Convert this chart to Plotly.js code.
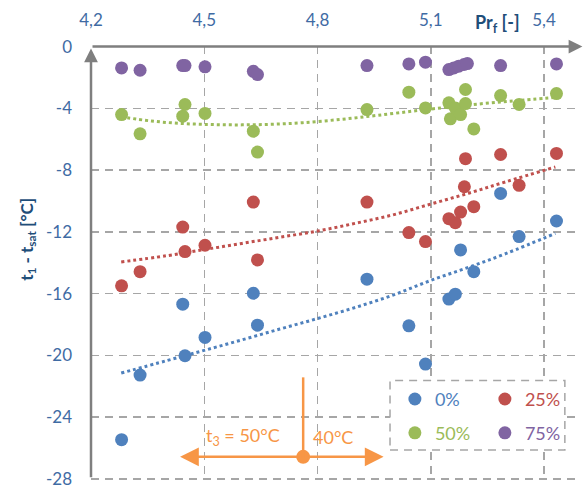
<!DOCTYPE html>
<html>
<head>
<meta charset="utf-8">
<script src="https://cdn.plot.ly/plotly-3.0.1.min.js"></script>
<style>html,body{margin:0;padding:0;background:#fff;}#chart{width:585px;height:488px;}</style>
</head>
<body>
<div id="chart"></div>
<script>
// ---- data ----
const seriesNames = ['0%', '25%', '50%', '75%'];
const seriesColors = ['#4F81BD', '#C0504D', '#9BBB59', '#8064A2'];

const pr0 = [4.281, 4.330, 4.443, 4.449, 4.502, 4.630, 4.641, 4.931, 5.042, 5.086, 5.148, 5.165, 5.179, 5.214, 5.285, 5.334, 5.433];
const dt0 = [-25.47, -21.28, -16.69, -20.03, -18.84, -15.98, -18.05, -15.07, -18.09, -20.57, -16.36, -16.04, -13.17, -14.58, -9.51, -12.31, -11.30];

const pr25 = [4.281, 4.330, 4.443, 4.449, 4.502, 4.630, 4.641, 4.931, 5.042, 5.086, 5.148, 5.165, 5.179, 5.189, 5.192, 5.214, 5.285, 5.334, 5.433];
const dt25 = [-15.50, -14.58, -11.69, -13.28, -12.87, -10.07, -13.82, -10.07, -12.05, -12.63, -11.15, -11.41, -10.72, -9.08, -7.26, -10.37, -6.99, -8.99, -6.92];

const pr50 = [4.281, 4.330, 4.443, 4.449, 4.502, 4.630, 4.641, 4.931, 5.042, 5.086, 5.148, 5.152, 5.165, 5.179, 5.192, 5.192, 5.214, 5.285, 5.334, 5.433];
const dt50 = [-4.40, -5.65, -4.51, -3.75, -4.33, -5.48, -6.83, -4.08, -2.95, -3.97, -3.64, -4.68, -3.97, -4.40, -3.69, -2.78, -5.33, -3.17, -3.75, -3.04];

const pr75 = [4.281, 4.330, 4.443, 4.449, 4.502, 4.630, 4.641, 4.931, 5.042, 5.086, 5.148, 5.161, 5.174, 5.188, 5.197, 5.285, 5.433];
const dt75 = [-1.38, -1.53, -1.23, -1.23, -1.31, -1.60, -1.81, -1.23, -1.12, -1.01, -1.49, -1.38, -1.27, -1.16, -1.10, -1.23, -1.12];

// trend lines (dotted)
const trendPr0 = [4.28, 4.40, 4.50, 4.60, 4.70, 4.80, 4.90, 5.00, 5.10, 5.20, 5.30, 5.43];
const trendDt0 = [-21.15, -20.35, -19.68, -19.00, -18.30, -17.62, -16.90, -16.10, -15.15, -14.30, -13.40, -12.10];
const trendPr25 = [4.28, 4.40, 4.50, 4.60, 4.70, 4.80, 4.90, 5.00, 5.10, 5.20, 5.30, 5.43];
const trendDt25 = [-13.95, -13.55, -13.15, -12.75, -12.35, -11.95, -11.45, -10.90, -10.20, -9.50, -8.75, -7.80];
const trendPr50 = [4.28, 4.36, 4.44, 4.52, 4.60, 4.68, 4.76, 4.86, 4.96, 5.08, 5.20, 5.32, 5.43];
const trendDt50 = [-4.55, -4.82, -4.98, -5.05, -5.07, -5.03, -4.93, -4.72, -4.45, -4.10, -3.78, -3.52, -3.30];

// axis ticks
const xTickVals = [4.2, 4.5, 4.8, 5.1, 5.4];
const xTickText = ['4,2', '4,5', '4,8', '5,1', '5,4'];
const yTickVals = [0, -4, -8, -12, -16, -20, -24, -28];
const yTickText = ['0', '-4', '-8', '-12', '-16', '-20', '-24', '-28'];

// t3 indicator
const t3Point = {pr: 4.762, dt: -26.58};
const t3Top = -21.43;
const t3Left = 4.436;
const t3Right = 4.975;
const t3LabelDt = -25.29;
const t3LeftLabelPr = 4.603;
const t3RightLabelPr = 4.842;
const t3Labels = ['t<sub>3</sub> = 50°C', '40°C'];

// ---- build ----
const FONT = 'Lato, "Open Sans", sans-serif';
const ORANGE = '#F79646';
const GRAY = '#7F7F7F';
const TICKCOL = '#3F6BA4';
const TITLECOL = '#1F4E79';

const pts = [[pr0, dt0], [pr25, dt25], [pr50, dt50], [pr75, dt75]];
const trends = [[trendPr0, trendDt0], [trendPr25, trendDt25], [trendPr50, trendDt50]];

const traces = [];
trends.forEach((t, i) => {
  traces.push({
    x: t[0], y: t[1], type: 'scatter', mode: 'lines',
    line: {color: seriesColors[i], width: 3, dash: 'dot', shape: 'spline'},
    showlegend: false, hoverinfo: 'skip'
  });
});
pts.forEach((p, i) => {
  traces.push({
    x: p[0], y: p[1], type: 'scatter', mode: 'markers', cliponaxis: false,
    name: '<span style="color:' + seriesColors[i] + '">' + seriesNames[i] + '</span>',
    marker: {color: seriesColors[i], size: 13, line: {width: 0}},
    legend: i < 2 ? 'legend' : 'legend2'
  });
});
traces.push({
  x: [t3Point.pr], y: [t3Point.dt], type: 'scatter', mode: 'markers',
  marker: {color: ORANGE, size: 14}, showlegend: false, hoverinfo: 'skip'
});

const legendCommon = {
  orientation: 'h', xanchor: 'left', yanchor: 'middle',
  bgcolor: 'rgba(0,0,0,0)', borderwidth: 0,
  font: {family: FONT, size: 18},
  entrywidth: 45, entrywidthmode: 'pixels', itemwidth: 30, tracegroupgap: 0
};

const layout = {
  width: 585, height: 488,
  margin: {l: 91, r: 7, t: 46, b: 8, autoexpand: false},
  paper_bgcolor: '#fff', plot_bgcolor: '#fff',
  font: {family: FONT, size: 17, color: TICKCOL},
  showlegend: true,
  legend: Object.assign({}, legendCommon, {x: 0.624, y: 0.186}),
  legend2: Object.assign({}, legendCommon, {x: 0.624, y: 0.108}),
  xaxis: {
    side: 'top', range: [4.2, 5.49],
    tickvals: xTickVals, ticktext: xTickText,
    showgrid: true, gridcolor: '#A6A6A6', gridwidth: 1.5, griddash: '8px,6px',
    zeroline: false, showline: false, ticks: '', ticklabelstandoff: 16,
    ticklabeloverflow: 'allow',
    tickfont: {family: FONT, size: 17, color: TICKCOL}
  },
  yaxis: {
    range: [-28.08, 0.04],
    tickvals: yTickVals, ticktext: yTickText,
    showgrid: true, gridcolor: '#A6A6A6', gridwidth: 1.5, griddash: '8px,6px',
    zeroline: false, showline: false, ticks: '', ticklabelstandoff: 18,
    ticklabeloverflow: 'allow',
    tickfont: {family: FONT, size: 17, color: TICKCOL}
  },
  shapes: [
    {type: 'rect', xref: 'paper', yref: 'paper', x0: 0.614, x1: 0.973, y0: 0.069, y1: 0.229,
     line: {color: '#A6A6A6', width: 1.5, dash: '8px,6px'}, fillcolor: '#fff', layer: 'above'},
    {type: 'line', xref: 'x', yref: 'y', x0: t3Point.pr, x1: t3Point.pr, y0: t3Top, y1: t3Point.dt,
     line: {color: ORANGE, width: 2.5}}
  ],
  annotations: [
    // axis arrows
    {xref: 'paper', yref: 'paper', axref: 'paper', ayref: 'paper', x: 1.009, y: 0.9986, ax: 0, ay: 0.9986,
     text: '', showarrow: true, arrowhead: 2, arrowsize: 1.1, arrowwidth: 2.5, arrowcolor: GRAY},
    {xref: 'paper', yref: 'paper', axref: 'paper', ayref: 'paper', x: 0, y: 0.994, ax: 0, ay: 0.003,
     text: '', showarrow: true, arrowhead: 2, arrowsize: 1.1, arrowwidth: 2.5, arrowcolor: GRAY},
    // titles
    {xref: 'paper', yref: 'paper', x: 0.835, y: 1.051, xanchor: 'center', yanchor: 'middle', showarrow: false,
     text: '<b>Pr<sub>f</sub> [-]</b>', font: {family: FONT, size: 18, color: TITLECOL}},
    {xref: 'paper', yref: 'paper', x: -0.13, y: 0.555, xanchor: 'center', yanchor: 'middle', showarrow: false,
     textangle: -90, text: '<b>t<sub>1</sub> - t<sub>sat</sub> [°C]</b>', font: {family: FONT, size: 17, color: TITLECOL}},
    // t3 arrows
    {xref: 'x', yref: 'y', axref: 'x', ayref: 'y', x: t3Left, y: t3Point.dt, ax: t3Point.pr, ay: t3Point.dt,
     text: '', showarrow: true, arrowhead: 2, arrowsize: 1.5, arrowwidth: 2.5, arrowcolor: ORANGE},
    {xref: 'x', yref: 'y', axref: 'x', ayref: 'y', x: t3Right, y: t3Point.dt, ax: t3Point.pr, ay: t3Point.dt,
     text: '', showarrow: true, arrowhead: 2, arrowsize: 1.5, arrowwidth: 2.5, arrowcolor: ORANGE},
    {xref: 'x', yref: 'y', x: t3LeftLabelPr, y: t3LabelDt, showarrow: false, text: t3Labels[0],
     font: {family: FONT, size: 18, color: ORANGE}},
    {xref: 'x', yref: 'y', x: t3RightLabelPr, y: t3LabelDt, showarrow: false, text: t3Labels[1],
     font: {family: FONT, size: 18, color: ORANGE}}
  ]
};

Plotly.newPlot('chart', traces, layout, {staticPlot: true, displayModeBar: false});
</script>
</body>
</html>
